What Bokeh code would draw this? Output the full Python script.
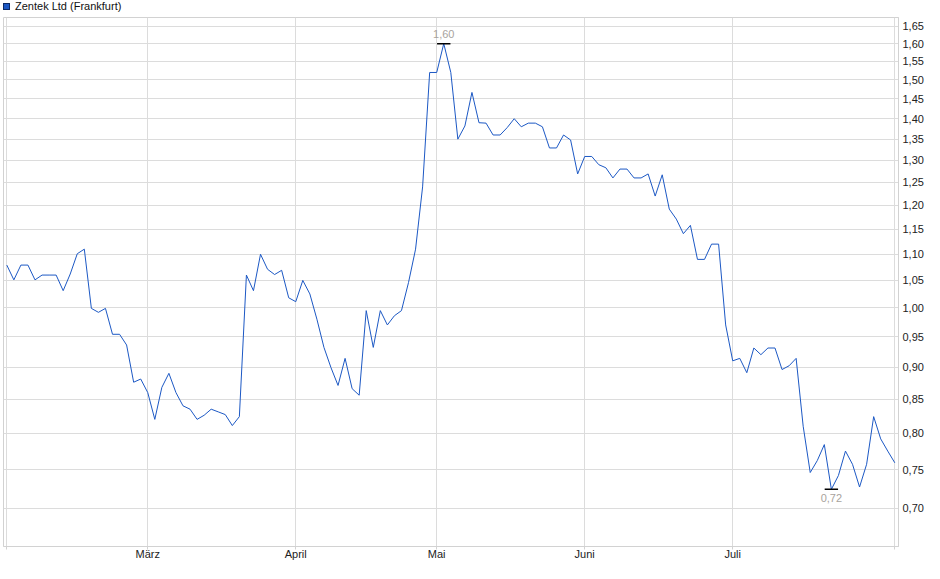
import json
from bokeh.plotting import figure
from bokeh.layouts import column
from bokeh.models import FixedTicker, CustomJSTickFormatter, Range1d, Div
from bokeh.embed import file_html
from bokeh.resources import INLINE
from bokeh.core.properties import value

# ---------------- data ----------------
series_name = "Zentek Ltd (Frankfurt)"
month_labels = ["März", "April", "Mai", "Juni", "Juli"]

feb = [1.079, 1.051, 1.079, 1.079, 1.051, 1.06, 1.06, 1.06, 1.031, 1.062,
       1.101, 1.11, 0.999, 0.992, 0.999, 0.954, 0.954, 0.936, 0.876, 0.881]
mar = [0.86, 0.82, 0.868, 0.89, 0.86, 0.84, 0.835, 0.82, 0.826, 0.835, 0.831,
       0.827, 0.811, 0.824, 1.06, 1.031, 1.10, 1.071, 1.061, 1.069, 1.018]
apr = [1.011, 1.05, 1.025, 0.98, 0.932, 0.899, 0.871, 0.914, 0.866, 0.856,
       0.995, 0.932, 0.995, 0.97, 0.986, 0.995, 1.046, 1.11, 1.24, 1.52]
may = [1.52, 1.60, 1.52, 1.35, 1.382, 1.467, 1.39, 1.389, 1.36, 1.36, 1.378,
       1.40, 1.38, 1.389, 1.389, 1.38, 1.329, 1.329, 1.36, 1.348, 1.269]
jun = [1.309, 1.309, 1.29, 1.283, 1.26, 1.28, 1.28, 1.26, 1.26, 1.269, 1.22,
       1.267, 1.192, 1.171, 1.141, 1.158, 1.09, 1.09, 1.12, 1.12, 0.97]
jul = [0.91, 0.914, 0.891, 0.931, 0.92, 0.931, 0.931, 0.896, 0.902, 0.914,
       0.81, 0.746, 0.762, 0.784, 0.724, 0.742, 0.775, 0.757, 0.727, 0.757,
       0.824, 0.792, 0.775, 0.759]

y_ticks = [0.70, 0.75, 0.80, 0.85, 0.90, 0.95, 1.00, 1.05, 1.10, 1.15, 1.20,
           1.25, 1.30, 1.35, 1.40, 1.45, 1.50, 1.55, 1.60, 1.65]

# ---------------- derived ----------------
months = [feb, mar, apr, may, jun, jul]
prices = [v for m in months for v in m]
n = len(prices)
xs = list(range(n))
starts = []
acc = 0
for m in months:
    starts.append(acc)
    acc += len(m)
month_ticks = starts[1:]

x_labels = {str(0): "", str(n - 1): ""}
for t, lab in zip(month_ticks, month_labels):
    x_labels[str(t)] = lab

FONT = "Liberation Sans"
GRID = "#dcdcdc"
BORDER = "#d2d2d2"
LINE = "#1c58c4"
TOTAL_W = 932

# legend line above the chart
legend_div = Div(
    text=(
        '<div style="position:relative;width:%dpx;height:17px;'
        "font-family:'Liberation Sans',Arial,sans-serif;font-size:11px;\">"
        '<div style="position:absolute;left:3px;top:3px;width:7px;height:7px;'
        'background:%s;border:1px solid #0d2a66;"></div>'
        '<div style="position:absolute;left:15px;top:0px;line-height:13px;'
        'color:#111111;white-space:nowrap;">%s</div></div>'
    ) % (TOTAL_W, LINE, series_name),
    width=TOTAL_W, height=17, margin=(0, 0, 0, 0))

p = figure(frame_width=895, frame_height=529,
           y_axis_type="log", y_axis_location="right",
           x_range=Range1d(-0.468, n - 1 + 0.525),
           y_range=Range1d(0.654, 1.6762),
           output_backend="svg", toolbar_location=None,
           min_border_left=3, min_border_top=0,
           min_border_right=34, min_border_bottom=25,
           background_fill_color="white", border_fill_color="white",
           outline_line_color=BORDER, outline_line_width=1,
           margin=(0, 0, 0, 0))

p.line(xs, prices, line_color=LINE, line_width=1)

# max / min markers
vmax = max(prices)
vmin = min(prices)
imax = prices.index(vmax)
imin = prices.index(vmin)
fmt = lambda v: f"{v:.2f}".replace(".", ",")
p.segment(x0=[imax - 0.95, imin - 0.95], x1=[imax + 0.95, imin + 0.95],
          y0=[vmax, vmin], y1=[vmax, vmin], line_color="black", line_width=1.5)
p.text(x=[imax], y=[vmax], text=[fmt(vmax)], text_align="center",
       text_baseline="alphabetic", y_offset=-10, text_font=value(FONT),
       text_font_size="11px", text_color="#a8a39d")
p.text(x=[imin], y=[vmin], text=[fmt(vmin)], text_align="center",
       text_baseline="alphabetic", y_offset=9, text_font=value(FONT),
       text_font_size="11px", text_color="#a8a39d")

# x axis
xa = p.xaxis[0]
xa.ticker = FixedTicker(ticks=[0] + month_ticks + [n - 1], minor_ticks=[])
xa.formatter = CustomJSTickFormatter(
    code="const m = %s; const k = String(Math.round(tick)); return (k in m) ? m[k] : '';"
    % json.dumps(x_labels, ensure_ascii=False))
xa.axis_line_color = BORDER
xa.major_tick_line_color = BORDER
xa.major_tick_out = 3
xa.major_tick_in = 0
xa.minor_tick_line_color = None
xa.major_label_standoff = -2
xa.major_label_text_font = FONT
xa.major_label_text_font_size = "11px"
xa.major_label_text_color = "#222222"

# y axis
ya = p.yaxis[0]
ya.ticker = FixedTicker(ticks=y_ticks, minor_ticks=[])
ya.formatter = CustomJSTickFormatter(code="return tick.toFixed(2).replace('.', ',');")
ya.axis_line_color = BORDER
ya.major_tick_line_color = None
ya.major_tick_out = 0
ya.major_tick_in = 0
ya.minor_tick_line_color = None
ya.major_label_standoff = 4
ya.major_label_text_font = FONT
ya.major_label_text_font_size = "11px"
ya.major_label_text_color = "#222222"

p.xgrid.grid_line_color = GRID
p.ygrid.grid_line_color = GRID
p.xgrid.minor_grid_line_color = None
p.ygrid.minor_grid_line_color = None

layout = column(legend_div, p, spacing=0)
open("out.html", "w").write(file_html(layout, INLINE))
